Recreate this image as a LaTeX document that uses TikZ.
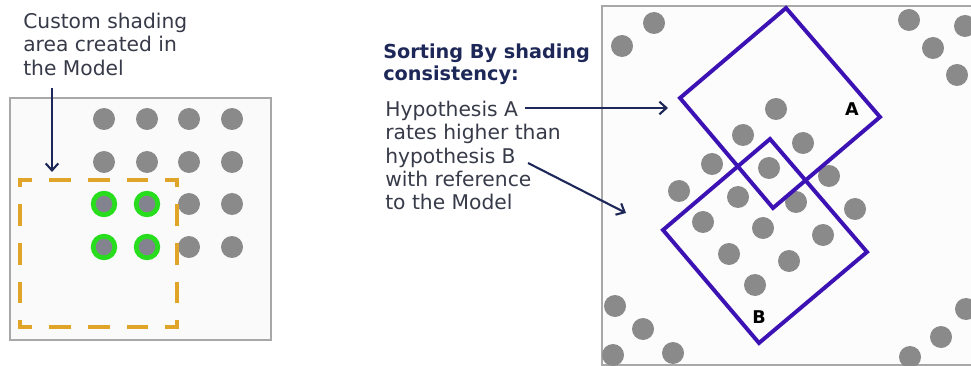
\documentclass[tikz,border=0pt]{standalone}
\usepackage{fontspec}
\setmainfont{DejaVu Sans}
\usetikzlibrary{arrows.meta,positioning}
\definecolor{navycolor}{RGB}{30,40,88}
\definecolor{notecolor}{RGB}{55,58,72}
\definecolor{dotcolor}{RGB}{138,138,138}
\definecolor{ringcolor}{RGB}{40,220,30}
\definecolor{dashcolor}{RGB}{224,165,40}
\definecolor{hypcolor}{RGB}{60,18,180}
\definecolor{framecolor}{RGB}{168,168,168}

\tikzset{
  panel/.style={draw=framecolor, line width=0.8pt},
  dot/.style={fill=dotcolor},
  pointer/.style={-{Straight Barb[length=5pt,width=9pt]}, line width=1.5pt, draw=navycolor},
  hypbox/.style={draw=hypcolor, line width=2.8pt, line join=miter},
  shadearea/.style={draw=dashcolor, line width=2.8pt, line cap=rect, dash pattern=on 12.8pt off 14.9pt},
  note/.style={inner sep=0pt, align=left, text=notecolor, font=\fontsize{14.4}{16.5}\selectfont},
}

\begin{document}
\begin{tikzpicture}[x=0.025cm, y=-0.025cm]
\useasboundingbox (0,0) rectangle (971,366);

% ================= LEFT: MODEL =================
\draw[panel, fill=black!2] (10,98) rectangle (271,340);

% 4x4 grid of points
\foreach \x in {104,147,189,232}
  \foreach \y in {119,162,204,247}
    \fill[dot] (\x,\y) circle[radius=11];

% shaded points inside the custom area
\foreach \x in {104,147}
  \foreach \y in {204,247}
    \draw[ringcolor, line width=3.4pt, fill=dotcolor!95!blue] (\x,\y) circle[radius=10.8];

% custom shading area
\coordinate (dtl) at (20,180);
\coordinate (dtr) at (177,180);
\coordinate (dbl) at (20,327);
\coordinate (dbr) at (177,327);
\foreach \a/\b/\ph in {dtl/dtr/5.95, dbl/dbr/5.95, dtl/dbl/9.5, dtr/dbr/9.5}
  \draw[shadearea, dash phase=\ph pt] (\a) -- (\b);

% note and pointer
\node[note, anchor=north west] (shadenote) at (23,13)
  {Custom shading\\area created in\\the Model};
\coordinate (shadefrom) at (52,88);
\coordinate (shadeto) at (52,172);
\draw[pointer] (shadefrom) -- (shadeto);

% ================= MIDDLE: TEXT =================
\node[anchor=north west, inner sep=0pt, align=left, text=navycolor,
  font=\bfseries\fontsize{13.7}{15.6}\selectfont] (sorttitle) at (383,44)
  {Sorting By shading\\consistency:};
\node[note, anchor=north west] (hypnote) at (385,101)
  {Hypothesis A\\rates higher than\\hypothesis B\\with reference\\to the Model};

% ================= RIGHT: HYPOTHESES =================
\draw[panel, fill=black!1] (602,6) rectangle (990,365);

% scattered points
\foreach \x/\y in {654/23, 622/46, 909/20, 965/26, 933/48, 957/75,
    776/109, 743/135, 803/143, 712/164, 769/168, 829/176,
    679/191, 738/197, 796/202, 855/209, 703/222, 763/228, 823/235,
    729/254, 789/261, 755/285,
    615/306, 643/329, 613/355, 673/353, 966/309, 941/337, 910/357}
  \fill[dot] (\x,\y) circle[radius=11];

% hypothesis A
\coordinate (A1) at (786,8);
\coordinate (A2) at (880,117);
\coordinate (A3) at (773,208);
\coordinate (A4) at (680,98);
\draw[hypbox] (A1) -- (A2) -- (A3) -- (A4) -- cycle;
\node[font=\bfseries\fontsize{12.5}{12.5}\selectfont] (labA) at (852,109) {A};

% hypothesis B
\coordinate (B1) at (770,139);
\coordinate (B2) at (867,252);
\coordinate (B3) at (759,343);
\coordinate (B4) at (663,230);
\draw[hypbox] (B1) -- (B2) -- (B3) -- (B4) -- cycle;
\node[font=\bfseries\fontsize{12.5}{12.5}\selectfont] (labB) at (759,317) {B};

% pointers from the text
\coordinate (hypAfrom) at (525,108);
\coordinate (hypAto) at (668,108);
\coordinate (hypBfrom) at (528,163);
\coordinate (hypBto) at (626,213);
\draw[pointer] (hypAfrom) -- (hypAto);
\draw[pointer] (hypBfrom) -- (hypBto);

\end{tikzpicture}
\end{document}
